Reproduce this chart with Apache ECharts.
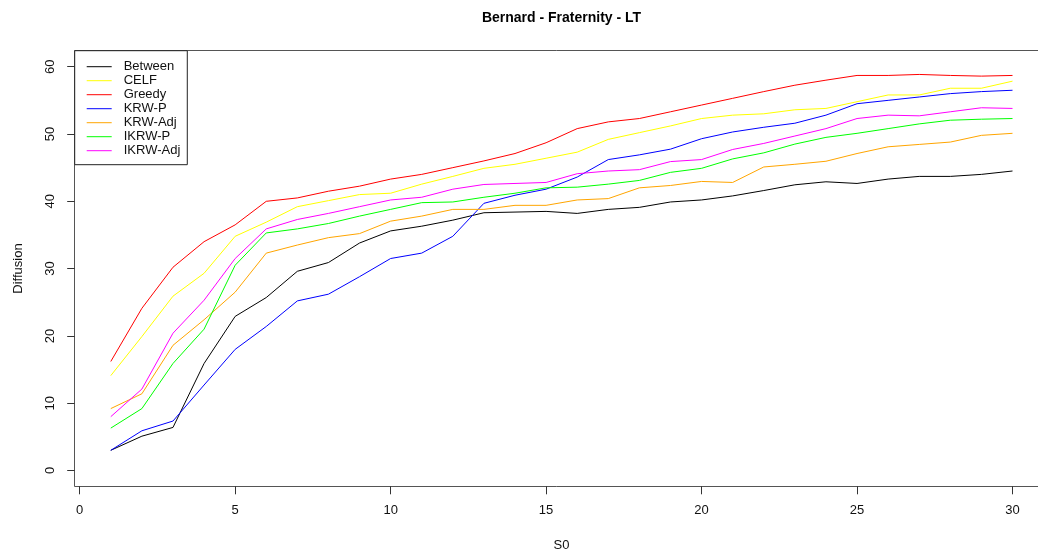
<!DOCTYPE html>
<html>
<head>
<meta charset="utf-8">
<script src="https://cdn.jsdelivr.net/npm/echarts@6/dist/echarts.min.js"></script>
<style>
html,body{margin:0;padding:0;background:#fff;}
#chart{width:1038px;height:556px;}
</style>
</head>
<body>
<div id="chart"></div>
<script>
const S0 = [1,2,3,4,5,6,7,8,9,10,11,12,13,14,15,16,17,18,19,20,21,22,23,24,25,26,27,28,29,30];
const seriesNames = ['Between','CELF','Greedy','KRW-P','KRW-Adj','IKRW-P','IKRW-Adj'];
const Between = [3.0,5.1,6.4,15.9,22.9,25.7,29.6,30.9,33.8,35.6,36.3,37.2,38.3,38.4,38.5,38.2,38.8,39.1,39.9,40.2,40.8,41.6,42.45,42.9,42.65,43.3,43.7,43.7,44.0,44.5];
const CELF = [14.1,19.9,25.9,29.3,34.8,36.9,39.2,40.1,41.0,41.2,42.55,43.7,44.9,45.5,46.4,47.3,49.2,50.2,51.2,52.3,52.8,53.0,53.6,53.8,54.8,55.8,55.8,56.8,56.8,57.85];
const Greedy = [16.2,24.1,30.2,34.0,36.5,40.0,40.5,41.5,42.25,43.3,44.0,45.0,46.0,47.1,48.7,50.8,51.8,52.3,53.3,54.3,55.3,56.3,57.25,58.0,58.7,58.7,58.85,58.7,58.6,58.7];
const KRW_P = [3.0,5.9,7.35,12.7,18.0,21.4,25.2,26.2,28.8,31.5,32.3,34.8,39.7,40.9,41.8,43.6,46.2,46.9,47.75,49.3,50.3,51.0,51.6,52.8,54.5,55.0,55.5,56.0,56.3,56.5];
const KRW_Adj = [9.2,11.4,18.6,22.4,26.5,32.3,33.5,34.6,35.2,37.05,37.8,38.8,38.8,39.4,39.4,40.2,40.4,42.0,42.35,42.95,42.8,45.1,45.5,45.95,47.1,48.1,48.45,48.8,49.8,50.1];
const IKRW_P = [6.3,9.2,15.9,21.0,30.5,35.3,35.9,36.7,37.8,38.8,39.8,39.9,40.6,41.2,42.0,42.1,42.55,43.1,44.3,44.9,46.3,47.2,48.5,49.5,50.1,50.8,51.5,52.05,52.2,52.3];
const IKRW_Adj = [8.0,12.1,20.4,25.3,31.5,35.9,37.3,38.2,39.2,40.2,40.6,41.8,42.5,42.65,42.8,44.1,44.5,44.7,45.9,46.2,47.7,48.6,49.7,50.8,52.3,52.8,52.7,53.3,53.9,53.8];
const xTicks = [0,5,10,15,20,25,30];
const yTicks = [0,10,20,30,40,50,60];
const colors = ['#000000','#FFFF00','#FF0000','#0000FF','#FFA500','#00FF00','#FF00FF'];
const allValues = [Between, CELF, Greedy, KRW_P, KRW_Adj, IKRW_P, IKRW_Adj];

const FONT = '"Liberation Sans", Arial, sans-serif';
const chart = echarts.init(document.getElementById('chart'), null, {renderer:'canvas'});

const series = seriesNames.map((name, i) => ({
  name: name,
  type: 'line',
  data: S0.map((x, j) => [x, allValues[i][j]]),
  showSymbol: false,
  symbol: 'none',
  lineStyle: {color: colors[i], width: 1},
  itemStyle: {color: colors[i]},
  emphasis: {disabled: true},
  animation: false
}));

chart.setOption({
  backgroundColor: '#ffffff',
  animation: false,
  grid: {left: 79.7, right: 25.5, top: 66.7, bottom: 85.5, containLabel: false},
  xAxis: {
    type: 'value', min: xTicks[0], max: xTicks[xTicks.length-1], interval: 5,
    offset: 15.8,
    axisLine: {show: true, onZero: false, lineStyle: {color: '#333', width: 1, opacity: 0}},
    axisTick: {show: true, length: 8, lineStyle: {color: '#333', width: 1, opacity: 1}},
    axisLabel: {fontFamily: FONT, fontSize: 13, color: '#111', margin: 18},
    splitLine: {show: false}
  },
  yAxis: {
    type: 'value', min: yTicks[0], max: yTicks[yTicks.length-1], interval: 10,
    offset: 5,
    axisLine: {show: true, onZero: false, lineStyle: {color: '#333', width: 1, opacity: 0}},
    axisTick: {show: true, length: 7.5, lineStyle: {color: '#333', width: 1, opacity: 1}},
    axisLabel: {fontFamily: FONT, fontSize: 13, color: '#111', margin: 18, rotate: 90},
    splitLine: {show: false}
  },
  legend: {
    orient: 'vertical',
    left: 74.7, top: 50.7,
    padding: [9, 7, 7, 12],
    itemGap: 0,
    itemWidth: 25, itemHeight: 1,
    icon: 'rect',
    borderColor: '#222', borderWidth: 1, borderRadius: 0,
    backgroundColor: '#ffffff',
    textStyle: {fontFamily: FONT, fontSize: 13, color: '#111', lineHeight: 14, padding: [0,0,0,7]},
    data: seriesNames
  },
  graphic: [
    {type: 'rect', silent: true, z: 0,
     shape: {x: 74.5, y: 50.5, width: 1000, height: 436},
     style: {fill: 'none', stroke: '#555', lineWidth: 1}},
    {type: 'text', silent: true, x: 561.5, y: 18,
     style: {text: 'Bernard - Fraternity - LT', font: 'bold 14px ' + FONT, fill: '#000', textAlign: 'center', textVerticalAlign: 'middle'}},
    {type: 'text', silent: true, x: 561.5, y: 545,
     style: {text: 'S0', font: '13px ' + FONT, fill: '#111', textAlign: 'center', textVerticalAlign: 'middle'}},
    {type: 'text', silent: true, x: 18, y: 268.5, rotation: Math.PI/2,
     style: {text: 'Diffusion', font: '13px ' + FONT, fill: '#111', textAlign: 'center', textVerticalAlign: 'middle'}}
  ],
  series: series
});
</script>
</body>
</html>
